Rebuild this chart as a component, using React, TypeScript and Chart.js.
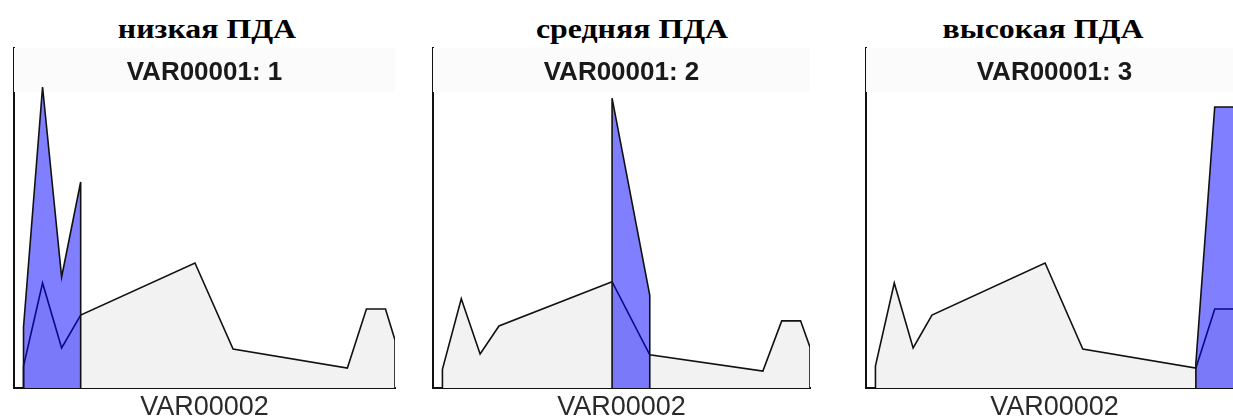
import { useEffect, useRef } from 'react';
import { Chart, registerables } from 'chart.js';

Chart.register(...registerables);

// VAR00002 values along the horizontal axis
const xValues = [1, 2, 3, 4, 10, 12, 18, 19, 20, 20.5];
// Whole-sample distribution (grey background area)
const totalShare = [2.2, 10.5, 4.0, 7.3, 12.5, 3.9, 2.0, 7.9, 7.9, 4.8];
// Group distributions (blue highlight areas), one per VAR00001 level
const lowShare = [6.1, 30.1, 11.1, 20.6, null, null, null, null, null, null];
const midShare = [null, null, null, null, 34.1, 10.9, null, null, null, null];
const highShare = [null, null, null, null, null, null, 2.5, 28.1, 28.1, 19.0];

const panelTitles = ['низкая ПДА', 'средняя ПДА', 'высокая ПДА'];
const stripLabels = ['VAR00001: 1', 'VAR00001: 2', 'VAR00001: 3'];
const xAxisLabel = 'VAR00002';
const yMaxima = [34, 40, 34];
const groupShares = [lowShare, midShare, highShare];

// Canvas placement of each panel on the page, and where its heading is centred
const panelBoxes = [
  { left: 0, width: 414, padLeft: 14, padRight: 19, headingX: 206.5 },
  { left: 420, width: 424, padLeft: 13, padRight: 34, headingX: 632 },
  { left: 843, width: 400, padLeft: 23, padRight: 0, headingX: 1043 },
];

type Pt = { x: number; y: number };

// Turns a series into a closed outline: drops to the baseline at both ends
function closedArea(xs: number[], ys: (number | null)[]): Pt[] {
  const pts: Pt[] = [];
  xs.forEach((x, i) => {
    const v = ys[i];
    if (v !== null && v !== undefined) pts.push({ x, y: v });
  });
  if (!pts.length) return pts;
  return [{ x: pts[0].x, y: 0 }, ...pts, { x: pts[pts.length - 1].x, y: 0 }];
}

// Light header strip at the top of the plot area with the panel label
const stripPlugin = {
  id: 'strip',
  beforeDatasetsDraw(chart: any, _args: any, opts: any) {
    const { ctx, chartArea } = chart;
    const { left, right, top } = chartArea;
    ctx.save();
    ctx.fillStyle = '#fbfbfb';
    ctx.fillRect(left, top, right - left, 44);
    ctx.fillStyle = '#1a1a1a';
    ctx.font = 'bold 26px "Liberation Sans", Arial, sans-serif';
    ctx.textAlign = 'center';
    ctx.textBaseline = 'middle';
    ctx.fillText(opts.text, (left + right) / 2, top + 25);
    ctx.restore();
  },
};

function Panel({ index }: { index: number }) {
  const ref = useRef<HTMLCanvasElement | null>(null);
  const box = panelBoxes[index];

  useEffect(() => {
    if (!ref.current) return;
    const chart = new Chart(ref.current, {
      type: 'line',
      data: {
        datasets: [
          {
            label: stripLabels[index],
            data: closedArea(xValues, groupShares[index]),
            fill: 'origin',
            backgroundColor: 'rgba(0, 0, 255, 0.5)',
            borderColor: '#111',
            borderWidth: 1.6,
            pointRadius: 0,
            tension: 0,
          },
          {
            label: 'total',
            data: closedArea(xValues, totalShare),
            fill: 'origin',
            backgroundColor: '#f2f2f2',
            borderColor: '#111',
            borderWidth: 1.6,
            pointRadius: 0,
            tension: 0,
          },
        ],
      },
      options: {
        responsive: false,
        animation: false,
        layout: { padding: { left: box.padLeft, right: box.padRight, top: 48, bottom: 0 } },
        plugins: {
          legend: { display: false },
          tooltip: { enabled: false },
          title: { display: false },
          strip: { text: stripLabels[index] },
        } as any,
        scales: {
          x: {
            type: 'linear',
            min: 0.5,
            max: 20.5,
            ticks: { display: false },
            grid: { display: false, drawTicks: false },
            border: { display: true, color: '#111', width: 2 },
            title: {
              display: true,
              text: xAxisLabel,
              color: '#2a2a2a',
              font: { family: '"Liberation Sans", Arial, sans-serif', size: 27, lineHeight: 1 },
              padding: { top: 6, bottom: 0 },
            },
          },
          y: {
            min: 0,
            max: yMaxima[index],
            ticks: { display: false },
            grid: { display: false, drawTicks: false },
            border: { display: true, color: '#111', width: 2 },
          },
        },
      },
      plugins: [stripPlugin],
    });
    return () => chart.destroy();
  }, [index]);

  return (
    <>
      <div
        style={{
          position: 'absolute',
          left: box.headingX - 150,
          top: 16,
          width: 300,
          textAlign: 'center',
          font: 'bold 27px/27px "Liberation Serif", "Times New Roman", serif',
          color: '#000',
          whiteSpace: 'nowrap',
          transform: 'scaleX(1.18)',
          transformOrigin: 'center',
        }}
      >
        {panelTitles[index]}
      </div>
      <canvas
        ref={ref}
        width={box.width}
        height={421}
        style={{ position: 'absolute', left: box.left, top: 0, width: box.width, height: 421 }}
      />
    </>
  );
}

export default function App() {
  return (
    <div
      style={{
        position: 'absolute',
        left: 0,
        top: 0,
        width: 1233,
        height: 418,
        overflow: 'hidden',
        background: '#fff',
      }}
    >
      {panelTitles.map((_, i) => (
        <Panel key={i} index={i} />
      ))}
    </div>
  );
}
